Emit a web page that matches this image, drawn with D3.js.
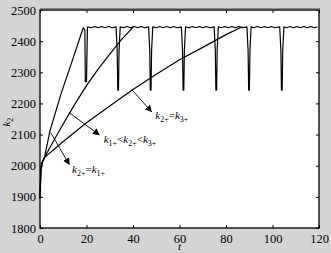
<!DOCTYPE html>
<html>
<head>
<meta charset="utf-8">
<script src="https://cdn.jsdelivr.net/npm/d3@7"></script>
<style>
  body { margin: 0; background: #d4d4d4; }
  svg { display: block; }
</style>
</head>
<body>
<div id="chart"></div>
<script>
// Axis ticks
const xTicks = [0, 20, 40, 60, 80, 100, 120];
const yTicks = [1800, 1900, 2000, 2100, 2200, 2300, 2400, 2500];

// Rising part of each curve, [t, k2]
const curveFast = [[0,1895],[0.4,1990],[1,2012],[1.9,2026],[4.3,2112],[9,2230],[14,2340],[18.6,2443],
  [19.3,2436],[19.5,2270],[20.0,2270],[20.4,2446]];
const curveMid = [[0,1895],[0.4,1990],[1,2012],[1.9,2026],[5,2068],[8,2108],[12,2160],[16,2210],
  [20,2257],[25,2310],[30,2358],[35,2405],[40.2,2446]];
const curveSlow = [[0,1895],[0.4,1990],[1,2012],[1.9,2026],[10,2078],[20,2138],[30,2192],[40,2245],
  [50,2294],[60,2340],[70,2380],[80,2421],[87,2446]];

// Common periodic trajectory once the curves have converged
const plateau = [
  [20.4,2446],[22,2443],[23.5,2447],[25,2443],[26.5,2447],[28,2443],[29.5,2447],[31,2443],[32.7,2446],
  [33.2,2370],[33.45,2243],[33.75,2243],[34.0,2370],[34.5,2446],
  [36,2443],[37.5,2447],[39,2443],[40.5,2447],[42,2443],[43.5,2447],[45,2443],[46.7,2446],
  [47.2,2370],[47.45,2243],[47.75,2243],[48.0,2370],[48.5,2446],
  [50,2443],[51.5,2447],[53,2443],[54.5,2447],[56,2443],[57.5,2447],[59,2443],[60.8,2446],
  [61.3,2370],[61.55,2243],[61.85,2243],[62.1,2370],[62.6,2446],
  [64,2443],[65.5,2447],[67,2443],[68.5,2447],[70,2443],[71.5,2447],[73,2443],[74.9,2446],
  [75.4,2370],[75.65,2243],[75.95,2243],[76.2,2370],[76.7,2446],
  [78,2443],[79.5,2447],[81,2443],[82.5,2447],[84,2443],[85.5,2447],[87,2443],[89.0,2446],
  [89.5,2370],[89.75,2243],[90.05,2243],[90.3,2370],[90.8,2446],
  [92,2443],[93.5,2447],[95,2443],[96.5,2447],[98,2443],[99.5,2447],[101,2443],[103.1,2446],
  [103.6,2370],[103.85,2243],[104.15,2243],[104.4,2370],[104.9,2446],
  [106,2443],[107.5,2447],[109,2443],[110.5,2447],[112,2443],[113.5,2447],[115,2443],[116.5,2447],[118,2443],[119.3,2446]
];

// Annotations: arrow tail, arrow head, label anchor (data units), label parts
const notes = [
  {from: [39.4,2245], to: [48.0,2173], at: [49.6,2150], parts: [["k","2+"],["=",""],["k","3+"]]},
  {from: [12.6,2170], to: [25.5,2099], at: [27.4,2074], parts: [["k","1+"],["<",""],["k","2+"],["<",""],["k","3+"]]},
  {from: [4.6,2106], to: [12.6,2004], at: [13.8,1977], parts: [["k","2+"],["=",""],["k","1+"]]}
];

const width = 331, height = 253;
const margin = {top: 10, right: 12, bottom: 25, left: 40};

const svg = d3.select("#chart")
  .append("svg")
    .attr("width", width)
    .attr("height", height);

svg.append("rect")
    .attr("width", width)
    .attr("height", height)
    .attr("fill", "#d4d4d4");

const xScale = d3.scaleLinear()
  .domain([0, 120])
  .range([margin.left, width - margin.right]);
const yScale = d3.scaleLinear()
  .domain([1800, 2500])
  .range([height - margin.bottom, margin.top]);

// Plot area
svg.append("rect")
    .attr("x", xScale(0))
    .attr("y", yScale(2500))
    .attr("width", xScale(120) - xScale(0))
    .attr("height", yScale(1800) - yScale(2500))
    .attr("fill", "white");

const font = "'Liberation Serif', 'Times New Roman', serif";

// Axes with inward ticks
svg.append("g")
    .attr("transform", `translate(0, ${yScale(1800)})`)
    .call(d3.axisBottom(xScale).tickValues(xTicks).tickFormat(d3.format("d")).tickSize(-3).tickPadding(6));
svg.append("g")
    .attr("transform", `translate(${xScale(0)}, 0)`)
    .call(d3.axisLeft(yScale).tickValues(yTicks).tickFormat(d3.format("d")).tickSize(-3).tickPadding(4));
svg.append("g")
    .attr("transform", `translate(0, ${yScale(2500)})`)
    .call(d3.axisTop(xScale).tickValues(xTicks).tickSize(-3).tickFormat(""));
svg.append("g")
    .attr("transform", `translate(${xScale(120)}, 0)`)
    .call(d3.axisRight(yScale).tickValues(yTicks).tickSize(-3).tickFormat(""));

svg.selectAll(".domain").remove();
svg.selectAll(".tick line").attr("stroke", "black");
svg.selectAll(".tick text")
    .attr("fill", "black")
    .style("font-family", font)
    .style("font-size", "12.5px");

// Curves
const line = d3.line()
  .x(d => xScale(d[0]))
  .y(d => yScale(d[1]));

[curveFast, curveMid, curveSlow, plateau].forEach(data => {
  svg.append("path")
      .datum(data)
      .attr("d", line)
      .attr("fill", "none")
      .attr("stroke", "black")
      .attr("stroke-width", 1.2)
      .attr("stroke-linejoin", "round");
});

// Box
svg.append("rect")
    .attr("x", xScale(0))
    .attr("y", yScale(2500))
    .attr("width", xScale(120) - xScale(0))
    .attr("height", yScale(1800) - yScale(2500))
    .attr("fill", "none")
    .attr("stroke", "black")
    .attr("stroke-width", 1.3);
svg.append("line")
    .attr("x1", xScale(0))
    .attr("x2", xScale(120) + 1)
    .attr("y1", yScale(2500) - 0.5)
    .attr("y2", yScale(2500) - 0.5)
    .attr("stroke", "#444")
    .attr("stroke-width", 2);

// Arrow marker
svg.append("defs").append("marker")
    .attr("id", "arrow")
    .attr("viewBox", "0 0 10 10")
    .attr("refX", 9)
    .attr("refY", 5)
    .attr("markerWidth", 7)
    .attr("markerHeight", 7)
    .attr("markerUnits", "userSpaceOnUse")
    .attr("orient", "auto")
  .append("path")
    .attr("d", "M0,0 L10,5 L0,10 z")
    .attr("fill", "black");

notes.forEach(n => {
  svg.append("line")
      .attr("x1", xScale(n.from[0]))
      .attr("y1", yScale(n.from[1]))
      .attr("x2", xScale(n.to[0]))
      .attr("y2", yScale(n.to[1]))
      .attr("stroke", "black")
      .attr("stroke-width", 0.9)
      .attr("marker-end", "url(#arrow)");

  const label = svg.append("text")
      .attr("x", xScale(n.at[0]))
      .attr("y", yScale(n.at[1]))
      .style("font-family", font)
      .style("font-size", "11px");
  let shift = 0;
  n.parts.forEach(p => {
    if (p[1]) {
      label.append("tspan").text(p[0])
          .attr("dy", -shift)
          .style("font-style", "italic");
      label.append("tspan").text(p[1])
          .attr("dy", 3)
          .style("font-size", "8px");
      shift = 3;
    } else {
      label.append("tspan").text(p[0]).attr("dy", -shift);
      shift = 0;
    }
  });
});

// Axis titles
svg.append("text")
    .attr("x", xScale(60))
    .attr("y", 250)
    .attr("text-anchor", "middle")
    .style("font-family", font)
    .style("font-size", "11px")
    .style("font-style", "italic")
    .text("t");

const yTitle = svg.append("text")
    .attr("transform", `translate(10, ${yScale(2140)}) rotate(-90)`)
    .attr("text-anchor", "middle")
    .style("font-family", font)
    .style("font-size", "11px");
yTitle.append("tspan").text("k").style("font-style", "italic");
yTitle.append("tspan").text("2").attr("dy", 3).style("font-size", "8px");
</script>
</body>
</html>
